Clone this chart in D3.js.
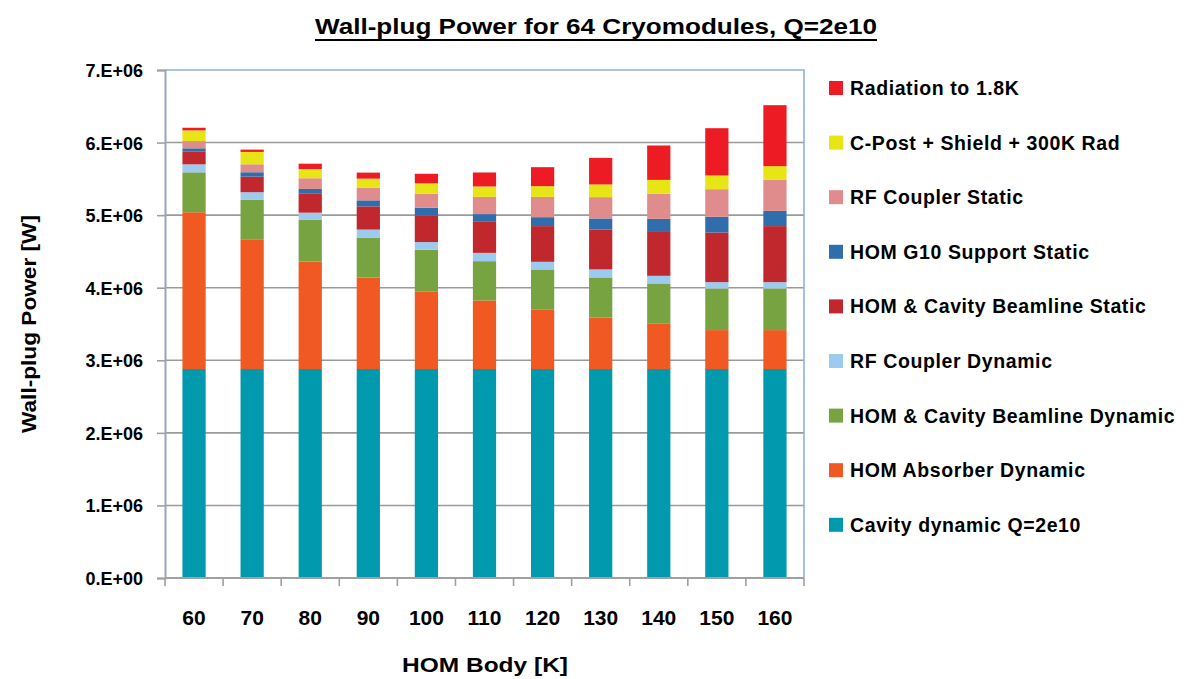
<!DOCTYPE html>
<html>
<head>
<meta charset="utf-8">
<script src="https://cdn.jsdelivr.net/npm/d3@7"></script>
<style>
  html, body { margin: 0; padding: 0; background: #fff; }
  svg text { font-family: "Liberation Sans", Arial, sans-serif; font-weight: bold; fill: #000; }
</style>
</head>
<body>
<svg id="chart" width="1189" height="679"></svg>
<script>
// HOM body temperature [K]
const categories = ["60", "70", "80", "90", "100", "110", "120", "130", "140", "150", "160"];

// Wall-plug power contributions [W], bottom of the stack first
const cavityDynamic      = [2.88e6, 2.88e6, 2.88e6, 2.88e6, 2.88e6, 2.88e6, 2.88e6, 2.88e6, 2.88e6, 2.88e6, 2.88e6];
const homAbsorberDynamic = [2.16e6, 1.78e6, 1.48e6, 1.26e6, 1.07e6, 0.945e6, 0.816e6, 0.711e6, 0.623e6, 0.536e6, 0.536e6];
const homCavBlDynamic    = [0.55e6, 0.55e6, 0.574e6, 0.551e6, 0.573e6, 0.541e6, 0.556e6, 0.551e6, 0.556e6, 0.574e6, 0.574e6];
const rfCouplerDynamic   = [0.11e6, 0.106e6, 0.10e6, 0.11e6, 0.106e6, 0.114e6, 0.105e6, 0.11e6, 0.105e6, 0.087e6, 0.087e6];
const homCavBlStatic     = [0.174e6, 0.215e6, 0.267e6, 0.32e6, 0.368e6, 0.428e6, 0.492e6, 0.551e6, 0.616e6, 0.684e6, 0.772e6];
const homG10Static       = [0.047e6, 0.06e6, 0.06e6, 0.083e6, 0.105e6, 0.106e6, 0.123e6, 0.151e6, 0.169e6, 0.216e6, 0.21e6];
const rfCouplerStatic    = [0.10e6, 0.11e6, 0.147e6, 0.175e6, 0.193e6, 0.238e6, 0.28e6, 0.294e6, 0.344e6, 0.381e6, 0.427e6];
const cPostShield        = [0.147e6, 0.17e6, 0.128e6, 0.124e6, 0.143e6, 0.143e6, 0.147e6, 0.175e6, 0.193e6, 0.189e6, 0.189e6];
const radiation18K       = [0.036e6, 0.032e6, 0.073e6, 0.083e6, 0.132e6, 0.193e6, 0.262e6, 0.366e6, 0.474e6, 0.651e6, 0.84e6];

const yTickValues = [0, 1e6, 2e6, 3e6, 4e6, 5e6, 6e6, 7e6];
const yTickLabels = ["0.E+00", "1.E+06", "2.E+06", "3.E+06", "4.E+06", "5.E+06", "6.E+06", "7.E+06"];

const series = [
  { key: "cav", name: "Cavity dynamic Q=2e10",         values: cavityDynamic,      color: "#0099ae" },
  { key: "abs", name: "HOM Absorber Dynamic",          values: homAbsorberDynamic, color: "#f05a22" },
  { key: "bld", name: "HOM & Cavity Beamline Dynamic", values: homCavBlDynamic,    color: "#77a441" },
  { key: "rfd", name: "RF Coupler Dynamic",            values: rfCouplerDynamic,   color: "#9ccbef" },
  { key: "bls", name: "HOM & Cavity Beamline Static",  values: homCavBlStatic,     color: "#c0282d" },
  { key: "g10", name: "HOM G10 Support Static",        values: homG10Static,       color: "#2f6dad" },
  { key: "rfs", name: "RF Coupler Static",             values: rfCouplerStatic,    color: "#e08b8c" },
  { key: "cps", name: "C-Post + Shield + 300K Rad",    values: cPostShield,        color: "#e7e515" },
  { key: "rad", name: "Radiation to 1.8K",             values: radiation18K,       color: "#ed1c24" }
];

const table = categories.map((c, i) => {
  const row = { cat: c };
  series.forEach(s => { row[s.key] = s.values[i]; });
  return row;
});

const svg = d3.select("#chart");
const m = { left: 165, right: 385, top: 70, bottom: 101 };
const W = 1189, H = 679;
const pw = W - m.left - m.right, ph = H - m.top - m.bottom;

const x = d3.scaleBand().domain(categories).range([m.left, m.left + pw]).paddingInner(0.6).paddingOuter(0.3);
const xb = d3.scaleBand().domain(categories).range([m.left, m.left + pw]);
const y = d3.scaleLinear().domain([0, 7e6]).range([m.top + ph, m.top]);

// horizontal gridlines
svg.append("g").selectAll("line").data(yTickValues.slice(1, -1)).join("line")
  .attr("x1", m.left).attr("x2", m.left + pw)
  .attr("y1", d => y(d)).attr("y2", d => y(d))
  .attr("stroke", "#9a9a9a").attr("stroke-width", 1.6);

// plot frame (top and right)
svg.append("path")
  .attr("d", `M${m.left},${m.top}H${m.left + pw}V${m.top + ph}`)
  .attr("fill", "none").attr("stroke", "#8fb1d9").attr("stroke-width", 1.6);

// stacked bars
const stack = d3.stack().keys(series.map(s => s.key))(table);
svg.append("g").selectAll("g").data(stack).join("g")
  .attr("fill", (d, i) => series[i].color)
  .selectAll("rect").data(d => d).join("rect")
  .attr("x", d => x(d.data.cat))
  .attr("width", x.bandwidth())
  .attr("y", d => y(d[1]))
  .attr("height", d => y(d[0]) - y(d[1]));

// y axis
const yAxis = d3.axisLeft(y).tickValues(yTickValues).tickFormat((d, i) => yTickLabels[i]).tickSize(8).tickPadding(14);
const gy = svg.append("g").attr("transform", `translate(${m.left},0)`).call(yAxis);
gy.select(".domain").attr("stroke", "#98a6b8").attr("stroke-width", 2);
gy.selectAll(".tick line").attr("stroke", "#a0a0a0").attr("stroke-width", 1.6);
gy.selectAll(".tick text").style("font-size", "18px").attr("dy", "0.36em");

// x axis with ticks at category boundaries
const gx = svg.append("g").attr("transform", `translate(0,${m.top + ph})`);
gx.append("line").attr("x1", m.left).attr("x2", m.left + pw).attr("stroke", "#a0a0a0").attr("stroke-width", 2);
const bounds = categories.map(c => xb(c)).concat([m.left + pw]);
gx.selectAll(".bt").data(bounds).join("line").attr("class", "bt")
  .attr("x1", d => d).attr("x2", d => d).attr("y1", 0).attr("y2", 8)
  .attr("stroke", "#a0a0a0").attr("stroke-width", 1.6);
gx.selectAll(".xl").data(categories).join("text").attr("class", "xl")
  .attr("x", d => xb(d) + xb.bandwidth() / 2).attr("y", 47)
  .attr("text-anchor", "middle").style("font-size", "21px").text(d => d);

// titles
const title = svg.append("text").attr("x", 596).attr("y", 34).attr("text-anchor", "middle")
  .attr("textLength", 562).attr("lengthAdjust", "spacingAndGlyphs")
  .style("font-size", "22px").text("Wall-plug Power for 64 Cryomodules, Q=2e10");
const tb = title.node().getBBox();
svg.append("line").attr("x1", tb.x).attr("x2", tb.x + tb.width).attr("y1", 40).attr("y2", 40)
  .attr("stroke", "#000").attr("stroke-width", 2.2);

svg.append("text").attr("transform", "translate(36,324) rotate(-90)").attr("text-anchor", "middle")
  .attr("textLength", 218).attr("lengthAdjust", "spacingAndGlyphs")
  .style("font-size", "21px").text("Wall-plug Power [W]");
svg.append("text").attr("x", 485).attr("y", 672).attr("text-anchor", "middle")
  .attr("textLength", 166).attr("lengthAdjust", "spacingAndGlyphs")
  .style("font-size", "21px").text("HOM Body [K]");

// legend, top entry is the top of the stack
const legendItems = series.slice().reverse();
const lg = svg.append("g").attr("transform", "translate(829,88)");
const li = lg.selectAll("g").data(legendItems).join("g").attr("transform", (d, i) => `translate(0,${i * 54.6})`);
li.append("rect").attr("x", 0).attr("y", -7).attr("width", 14).attr("height", 14).attr("fill", d => d.color);
li.append("text").attr("x", 21).attr("y", 7).style("font-size", "19.5px").style("letter-spacing", "0.6px").text(d => d.name);
</script>
</body>
</html>
